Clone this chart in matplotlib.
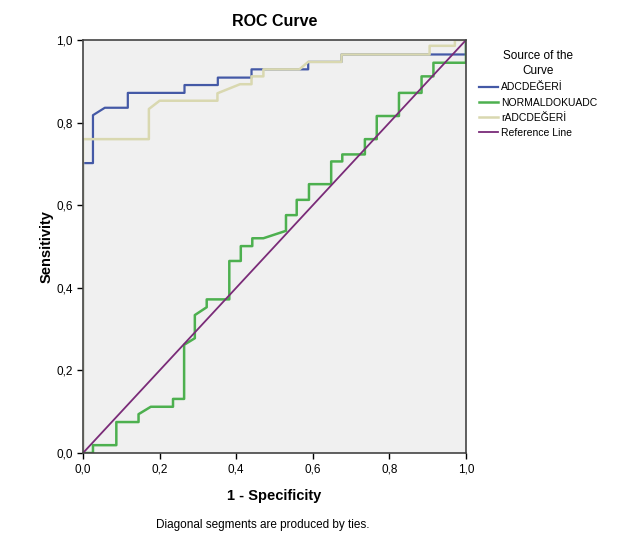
import matplotlib
matplotlib.use("Agg")
import matplotlib.pyplot as plt
from matplotlib.ticker import FuncFormatter

plt.rcParams["font.family"] = ["Liberation Sans", "DejaVu Sans"]

# ROC coordinates (1 - specificity, sensitivity)
adc_x = [0.0, 0.0, 0.026, 0.026, 0.057, 0.117, 0.117, 0.265, 0.265, 0.352, 0.352,
         0.44, 0.44, 0.588, 0.588, 0.675, 0.675, 1.0, 1.0]
adc_y = [0.0, 0.702, 0.702, 0.818, 0.836, 0.836, 0.872, 0.872, 0.891, 0.891, 0.909,
         0.909, 0.929, 0.929, 0.947, 0.947, 0.965, 0.965, 1.0]

normal_x = [0.0, 0.026, 0.026, 0.087, 0.087, 0.145, 0.145, 0.177, 0.235, 0.235,
            0.264, 0.264, 0.292, 0.292, 0.323, 0.323, 0.382, 0.382, 0.412, 0.412,
            0.442, 0.442, 0.471, 0.53, 0.53, 0.558, 0.558, 0.59, 0.59, 0.648,
            0.648, 0.677, 0.677, 0.736, 0.736, 0.767, 0.767, 0.825, 0.825, 0.884,
            0.884, 0.915, 0.915, 1.0, 1.0]
normal_y = [0.0, 0.0, 0.019, 0.019, 0.075, 0.075, 0.094, 0.112, 0.112, 0.131,
            0.131, 0.262, 0.278, 0.334, 0.353, 0.372, 0.372, 0.465, 0.465, 0.501,
            0.501, 0.52, 0.52, 0.538, 0.576, 0.576, 0.613, 0.613, 0.651, 0.651,
            0.706, 0.706, 0.723, 0.723, 0.76, 0.76, 0.816, 0.816, 0.872, 0.872,
            0.912, 0.912, 0.945, 0.945, 1.0]

radc_x = [0.0, 0.0, 0.172, 0.172, 0.2, 0.351, 0.351, 0.41, 0.44, 0.44, 0.471,
          0.471, 0.565, 0.588, 0.675, 0.675, 0.905, 0.905, 0.971, 0.971, 1.0]
radc_y = [0.0, 0.76, 0.76, 0.833, 0.853, 0.853, 0.871, 0.893, 0.893, 0.912, 0.912,
          0.929, 0.929, 0.947, 0.947, 0.965, 0.965, 0.986, 0.986, 1.0, 1.0]

ref_x = [0.0, 1.0]
ref_y = [0.0, 1.0]

labels = ["ADCDEĞERİ", "NORMALDOKUADC", "rADCDEĞERİ", "Reference Line"]
colors = ["#4459A6", "#4DB04F", "#D9D8B0", "#7A2B78"]

fig = plt.figure(figsize=(6.4, 5.46), dpi=100)
ax = fig.add_axes([0.1297, 0.1703, 0.5984, 0.7564])
ax.set_facecolor("#F0F0F0")

ax.plot(adc_x, adc_y, color=colors[0], lw=1.6, label=labels[0])
ax.plot(normal_x, normal_y, color=colors[1], lw=1.8, label=labels[1])
ax.plot(radc_x, radc_y, color=colors[2], lw=1.8, label=labels[2])
ax.plot(ref_x, ref_y, color=colors[3], lw=1.3, label=labels[3])

ax.set_xlim(0, 1)
ax.set_ylim(0, 1)
ticks = [0.0, 0.2, 0.4, 0.6, 0.8, 1.0]
ax.set_xticks(ticks)
ax.set_yticks(ticks)
fmt = FuncFormatter(lambda v, p: f"{v:.1f}".replace(".", ","))
ax.xaxis.set_major_formatter(fmt)
ax.yaxis.set_major_formatter(fmt)
ax.tick_params(direction="out", length=4, width=1, labelsize=8.5, colors="black")
for s in ax.spines.values():
    s.set_color("#444444")
    s.set_linewidth(1.2)

ax.set_title("ROC Curve", fontsize=11.5, fontweight="bold", pad=10)
ax.set_xlabel("1 - Specificity", fontsize=10.5, fontweight="bold", labelpad=10)
ax.set_ylabel("Sensitivity", fontsize=10.5, fontweight="bold", labelpad=2)

leg = ax.legend(title="Source of the\nCurve", loc="upper left",
                bbox_to_anchor=(0.745, 0.912), bbox_transform=fig.transFigure,
                frameon=False, fontsize=7.5, title_fontsize=8.5,
                handlelength=1.8, handletextpad=0.3, labelspacing=0.5,
                borderaxespad=0, alignment="center", borderpad=0.2)
leg.get_title().set_multialignment("center")
leg.get_title().set_linespacing(1.3)
leg._legend_box.sep = 4

fig.text(0.41, 0.038, "Diagonal segments are produced by ties.", ha="center",
         va="center", fontsize=8.5)

fig.savefig("out.png", dpi=100, facecolor="white")
